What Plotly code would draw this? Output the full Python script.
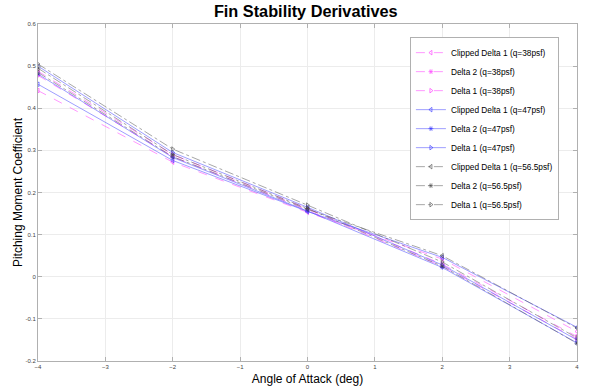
import plotly.graph_objects as go

aoa = [-4, -2, 0, 2, 4]

names = [
    "Clipped Delta 1 (q=38psf)", "Delta 2 (q=38psf)", "Delta 1 (q=38psf)",
    "Clipped Delta 1 (q=47psf)", "Delta 2 (q=47psf)", "Delta 1 (q=47psf)",
    "Clipped Delta 1 (q=56.5psf)", "Delta 2 (q=56.5psf)", "Delta 1 (q=56.5psf)",
]

clipped_38 = [0.442, 0.272, 0.153, 0.042, -0.130]
delta2_38 = [0.478, 0.285, 0.158, 0.025, -0.148]
delta1_38 = [0.488, 0.290, 0.162, 0.030, -0.142]
clipped_47 = [0.457, 0.276, 0.155, 0.046, -0.120]
delta2_47 = [0.481, 0.283, 0.156, 0.022, -0.157]
delta1_47 = [0.500, 0.295, 0.165, 0.028, -0.150]
clipped_56 = [0.485, 0.285, 0.160, 0.050, -0.122]
delta2_56 = [0.495, 0.290, 0.162, 0.025, -0.158]
delta1_56 = [0.505, 0.303, 0.170, 0.035, -0.145]

series = [clipped_38, delta2_38, delta1_38, clipped_47, delta2_47, delta1_47,
          clipped_56, delta2_56, delta1_56]

colors = ["rgba(255,80,255,0.75)"] * 3 + ["rgba(50,50,255,0.6)"] * 3 + ["rgba(70,70,70,0.6)"] * 3
dashes = ["dash"] * 3 + ["solid"] * 3 + ["dashdot"] * 3
symbols = ["triangle-left-open", "asterisk-open", "triangle-right-open"] * 3

fig = go.Figure()
for i, (nm, ys) in enumerate(zip(names, series)):
    fig.add_trace(go.Scatter(
        x=aoa, y=ys, name=nm, mode="lines+markers",
        line=dict(color=colors[i], width=0.8, dash=dashes[i]),
        marker=dict(symbol=symbols[i], size=4, color=colors[i],
                    line=dict(color=colors[i], width=1)),
    ))

axis_common = dict(
    showgrid=True, gridcolor="#ececec", gridwidth=1,
    showline=True, linecolor="#b0b0b0", linewidth=1, mirror="ticks",
    ticks="inside", ticklen=4, tickcolor="#b0b0b0",
    tickfont=dict(size=6, color="#444", family="Liberation Sans, Arial"),
    zeroline=False, automargin=False,
)

fig.update_layout(
    width=596, height=390,
    margin=dict(l=38, r=19, t=24, b=29, autoexpand=False),
    paper_bgcolor="white", plot_bgcolor="white",
    title=dict(text="<b>Fin Stability Derivatives</b>", x=0.513, xanchor="center",
               xref="container", yref="container", y=0.972, yanchor="middle",
               font=dict(size=16.3, color="black", family="Liberation Sans, Arial")),
    xaxis=dict(range=[-4, 4], tickvals=[-4, -3, -2, -1, 0, 1, 2, 3, 4],
               title=dict(text="Angle of Attack (deg)", standoff=5,
                          font=dict(size=12, color="black", family="Liberation Sans, Arial")),
               **axis_common),
    yaxis=dict(range=[-0.2, 0.6], tickvals=[-0.2, -0.1, 0, 0.1, 0.2, 0.3, 0.4, 0.5, 0.6],
               ticktext=["-0.2", "-0.1", "0", "0.1", "0.2", "0.3", "0.4", "0.5", "0.6"],
               title=dict(text="Pitching Moment Coefficient", standoff=0,
                          font=dict(size=12, color="black", family="Liberation Sans, Arial")),
               **axis_common),
    legend=dict(x=0.69, y=0.961, xanchor="left", yanchor="top",
                bgcolor="white", bordercolor="#b0b0b0", borderwidth=1,
                font=dict(size=8.3, color="black", family="Liberation Sans, Arial"),
                tracegroupgap=0, itemwidth=30),
)

fig.write_html("out.html", config={"displayModeBar": False},
               post_script="document.body.style.margin='0';document.body.style.overflow='hidden';")
